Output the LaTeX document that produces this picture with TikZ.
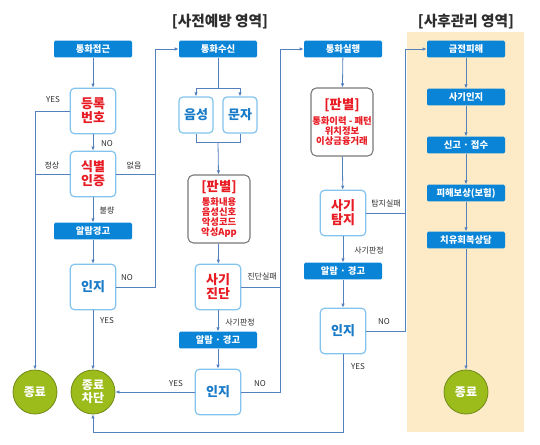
\documentclass[tikz,border=0pt]{standalone}
\usepackage{fontspec}
\setmainfont{Noto Sans CJK KR}
\usetikzlibrary{arrows.meta}

\definecolor{boxblue}{RGB}{10,132,214}
\definecolor{edgeblue}{RGB}{130,196,238}
\definecolor{alertred}{RGB}{232,28,36}
\definecolor{textblue}{RGB}{26,124,200}
\definecolor{linkblue}{RGB}{84,128,190}
\definecolor{endgreen}{RGB}{155,188,26}
\definecolor{endedge}{RGB}{112,138,24}
\definecolor{areatint}{RGB}{253,234,198}
\definecolor{judgegrey}{RGB}{120,120,120}
\definecolor{labelgrey}{RGB}{45,45,45}

\tikzset{
  stagebox/.style={fill=boxblue, text=white, rounded corners=1pt, minimum width=58.5pt, minimum height=12.5pt, inner sep=0pt, font=\fontsize{7}{8}\selectfont\bfseries},
  checkbox/.style={draw=edgeblue, line width=0.9pt, fill=white, rounded corners=3pt, minimum width=34pt, minimum height=34pt, inner sep=0pt, align=center, text=alertred, font=\fontsize{9.75}{10.5}\selectfont\bfseries},
  mediabox/.style={checkbox, minimum width=25.5pt, minimum height=27pt, text=textblue},
  awarebox/.style={checkbox, text=textblue},
  judgebox/.style={draw=judgegrey, line width=0.8pt, fill=white, rounded corners=4pt, minimum width=46.5pt, minimum height=51pt, inner sep=0pt, align=center, text=alertred, font=\fontsize{7}{7.6}\selectfont\bfseries},
  endnode/.style={circle, fill=endgreen, draw=endedge, line width=0.6pt, minimum size=33pt, inner sep=0pt, align=center, text=white, font=\fontsize{9}{10}\selectfont\bfseries},
  tag/.style={inner sep=0pt, text=labelgrey, font=\fontsize{6}{7}\selectfont},
  link/.style={draw=linkblue, line width=0.6pt},
  flow/.style={link, -{Latex[length=3pt,width=2.6pt]}},
}

\begin{document}
\begin{tikzpicture}[x=0.75pt,y=0.75pt,yscale=-1,xscale=1]
\useasboundingbox (0,0) rectangle (540,444);

%Shape: Rectangle [after-care area]
\fill[areatint] (407,32) rectangle (524,432);

% Text Node
\node[font=\fontsize{11}{12}\selectfont\bfseries, text=labelgrey] (prevtitle) at (220,22) {[사전예방 영역]};
% Text Node
\node[font=\fontsize{11}{12}\selectfont\bfseries, text=labelgrey] (caretitle) at (466,22) {[사후관리 영역]};

%Column 1
\node[stagebox] (reach) at (93,49) {통화접근};
\node[checkbox] (regno) at (93,111) {등록\\번호};
\node[checkbox] (ident) at (93,174) {식별\\인증};
\node[stagebox] (alarm1) at (93,231) {알람경고};
\node[awarebox] (aware1) at (93,287) {인지};
\node[endnode] (endL) at (35,392) {종료};
\node[endnode] (stopA) at (93,392) {종료\\차단};

%Column 2
\node[stagebox] (recv) at (218,49) {통화수신};
\node[mediabox] (voice) at (196,115) {음성};
\node[mediabox] (sms) at (240,115) {문자};
\node[judgebox] (judge2) at (219,209) {{\fontsize{10}{11}\selectfont [판별]}\\[2pt]통화내용\\음성신호\\악성코드\\악성App};
\node[checkbox] (diag) at (218,287) {사기\\진단};
\node[stagebox] (alarm2) at (218,340) {알람 · 경고};
\node[awarebox] (aware2) at (218,392) {인지};

%Column 3
\node[stagebox] (exec) at (343,49) {통화실행};
\node[judgebox] (judge3) at (342,122) {{\fontsize{10}{11}\selectfont [판별]}\\[2pt]통화이력 - 패턴\\위치정보\\이상금융거래};
\node[checkbox] (detect) at (343,213) {사기\\탐지};
\node[stagebox] (alarm3) at (343,271) {알람 · 경고};
\node[awarebox] (aware3) at (343,331) {인지};

%Column 4
\node[stagebox] (loss) at (466,49) {금전피해};
\node[stagebox] (notice) at (466,97) {사기인지};
\node[stagebox] (report) at (466,145) {신고 · 접수};
\node[stagebox] (redress) at (466,193) {피해보상(보험)};
\node[stagebox] (counsel) at (466,240) {치유회복상담};
\node[endnode] (endR) at (466,392) {종료};

%Turning points
\coordinate (back1) at (155,49);
\coordinate (back2) at (280,49);
\coordinate (back3) at (405,49);
\coordinate (split) at (218,88);
\coordinate (merge) at (218,142);
\coordinate (floor) at (93,432);

%Straight Lines
\draw[flow] (reach) -- (regno);
\draw[flow] (regno) -- (ident);
\draw[flow] (regno.west) -| (endL.north);
\draw[link] (ident.west) -- (ident.west -| endL);
\draw[link] (ident.east) -- (ident.east -| back1);
\draw[flow] (ident) -- (alarm1);
\draw[flow] (alarm1) -- (aware1);
\draw[flow] (aware1) -- (stopA);
\draw[flow] (aware1.east) -| (back1) -- (recv.west);

\draw[link] (recv) -- (split);
\draw[flow] (split) -| (voice);
\draw[flow] (split) -| (sms);
\draw[link] (voice.south) -- (voice.south |- merge) -- (sms.south |- merge) -- (sms.south);
\draw[flow] (merge) -- (judge2);
\draw[flow] (judge2) -- (diag);
\draw[flow] (diag) -- (alarm2);
\draw[flow] (alarm2) -- (aware2);
\draw[flow] (aware2) -- (stopA);
\draw[link] (diag.east) -- (diag.east -| back2);
\draw[flow] (aware2.east) -| (back2) -- (exec.west);

\draw[flow] (exec) -- (judge3);
\draw[flow] (judge3) -- (detect);
\draw[flow] (detect) -- (alarm3);
\draw[flow] (alarm3) -- (aware3);
\draw[link] (detect.east) -- (detect.east -| back3);
\draw[flow] (aware3.east) -| (back3) -- (loss.west);
\draw[flow] (aware3.south) |- (floor) -- (stopA.south);

\draw[flow] (loss) -- (notice);
\draw[flow] (notice) -- (report);
\draw[flow] (report) -- (redress);
\draw[flow] (redress) -- (counsel);
\draw[flow] (counsel) -- (endR);

% Text Node
\node[tag] (yes1) at (53,100) {YES};
\node[tag] (no1) at (107,144) {NO};
\node[tag] (ok1) at (52,165) {정상};
\node[tag] (none1) at (134,165) {없음};
\node[tag] (bad1) at (107,210) {불량};
\node[tag] (no2) at (127,278) {NO};
\node[tag] (yes2) at (107,321) {YES};
\node[tag] (fail2) at (262,276) {진단실패};
\node[tag] (judged2) at (240,322) {사기판정};
\node[tag] (yes3) at (176,384) {YES};
\node[tag] (no3) at (260,384) {NO};
\node[tag] (fail3) at (386,203) {탐지실패};
\node[tag] (judged3) at (369,250) {사기판정};
\node[tag] (no4) at (384,322) {NO};
\node[tag] (yes4) at (358,367) {YES};

\end{tikzpicture}
\end{document}
